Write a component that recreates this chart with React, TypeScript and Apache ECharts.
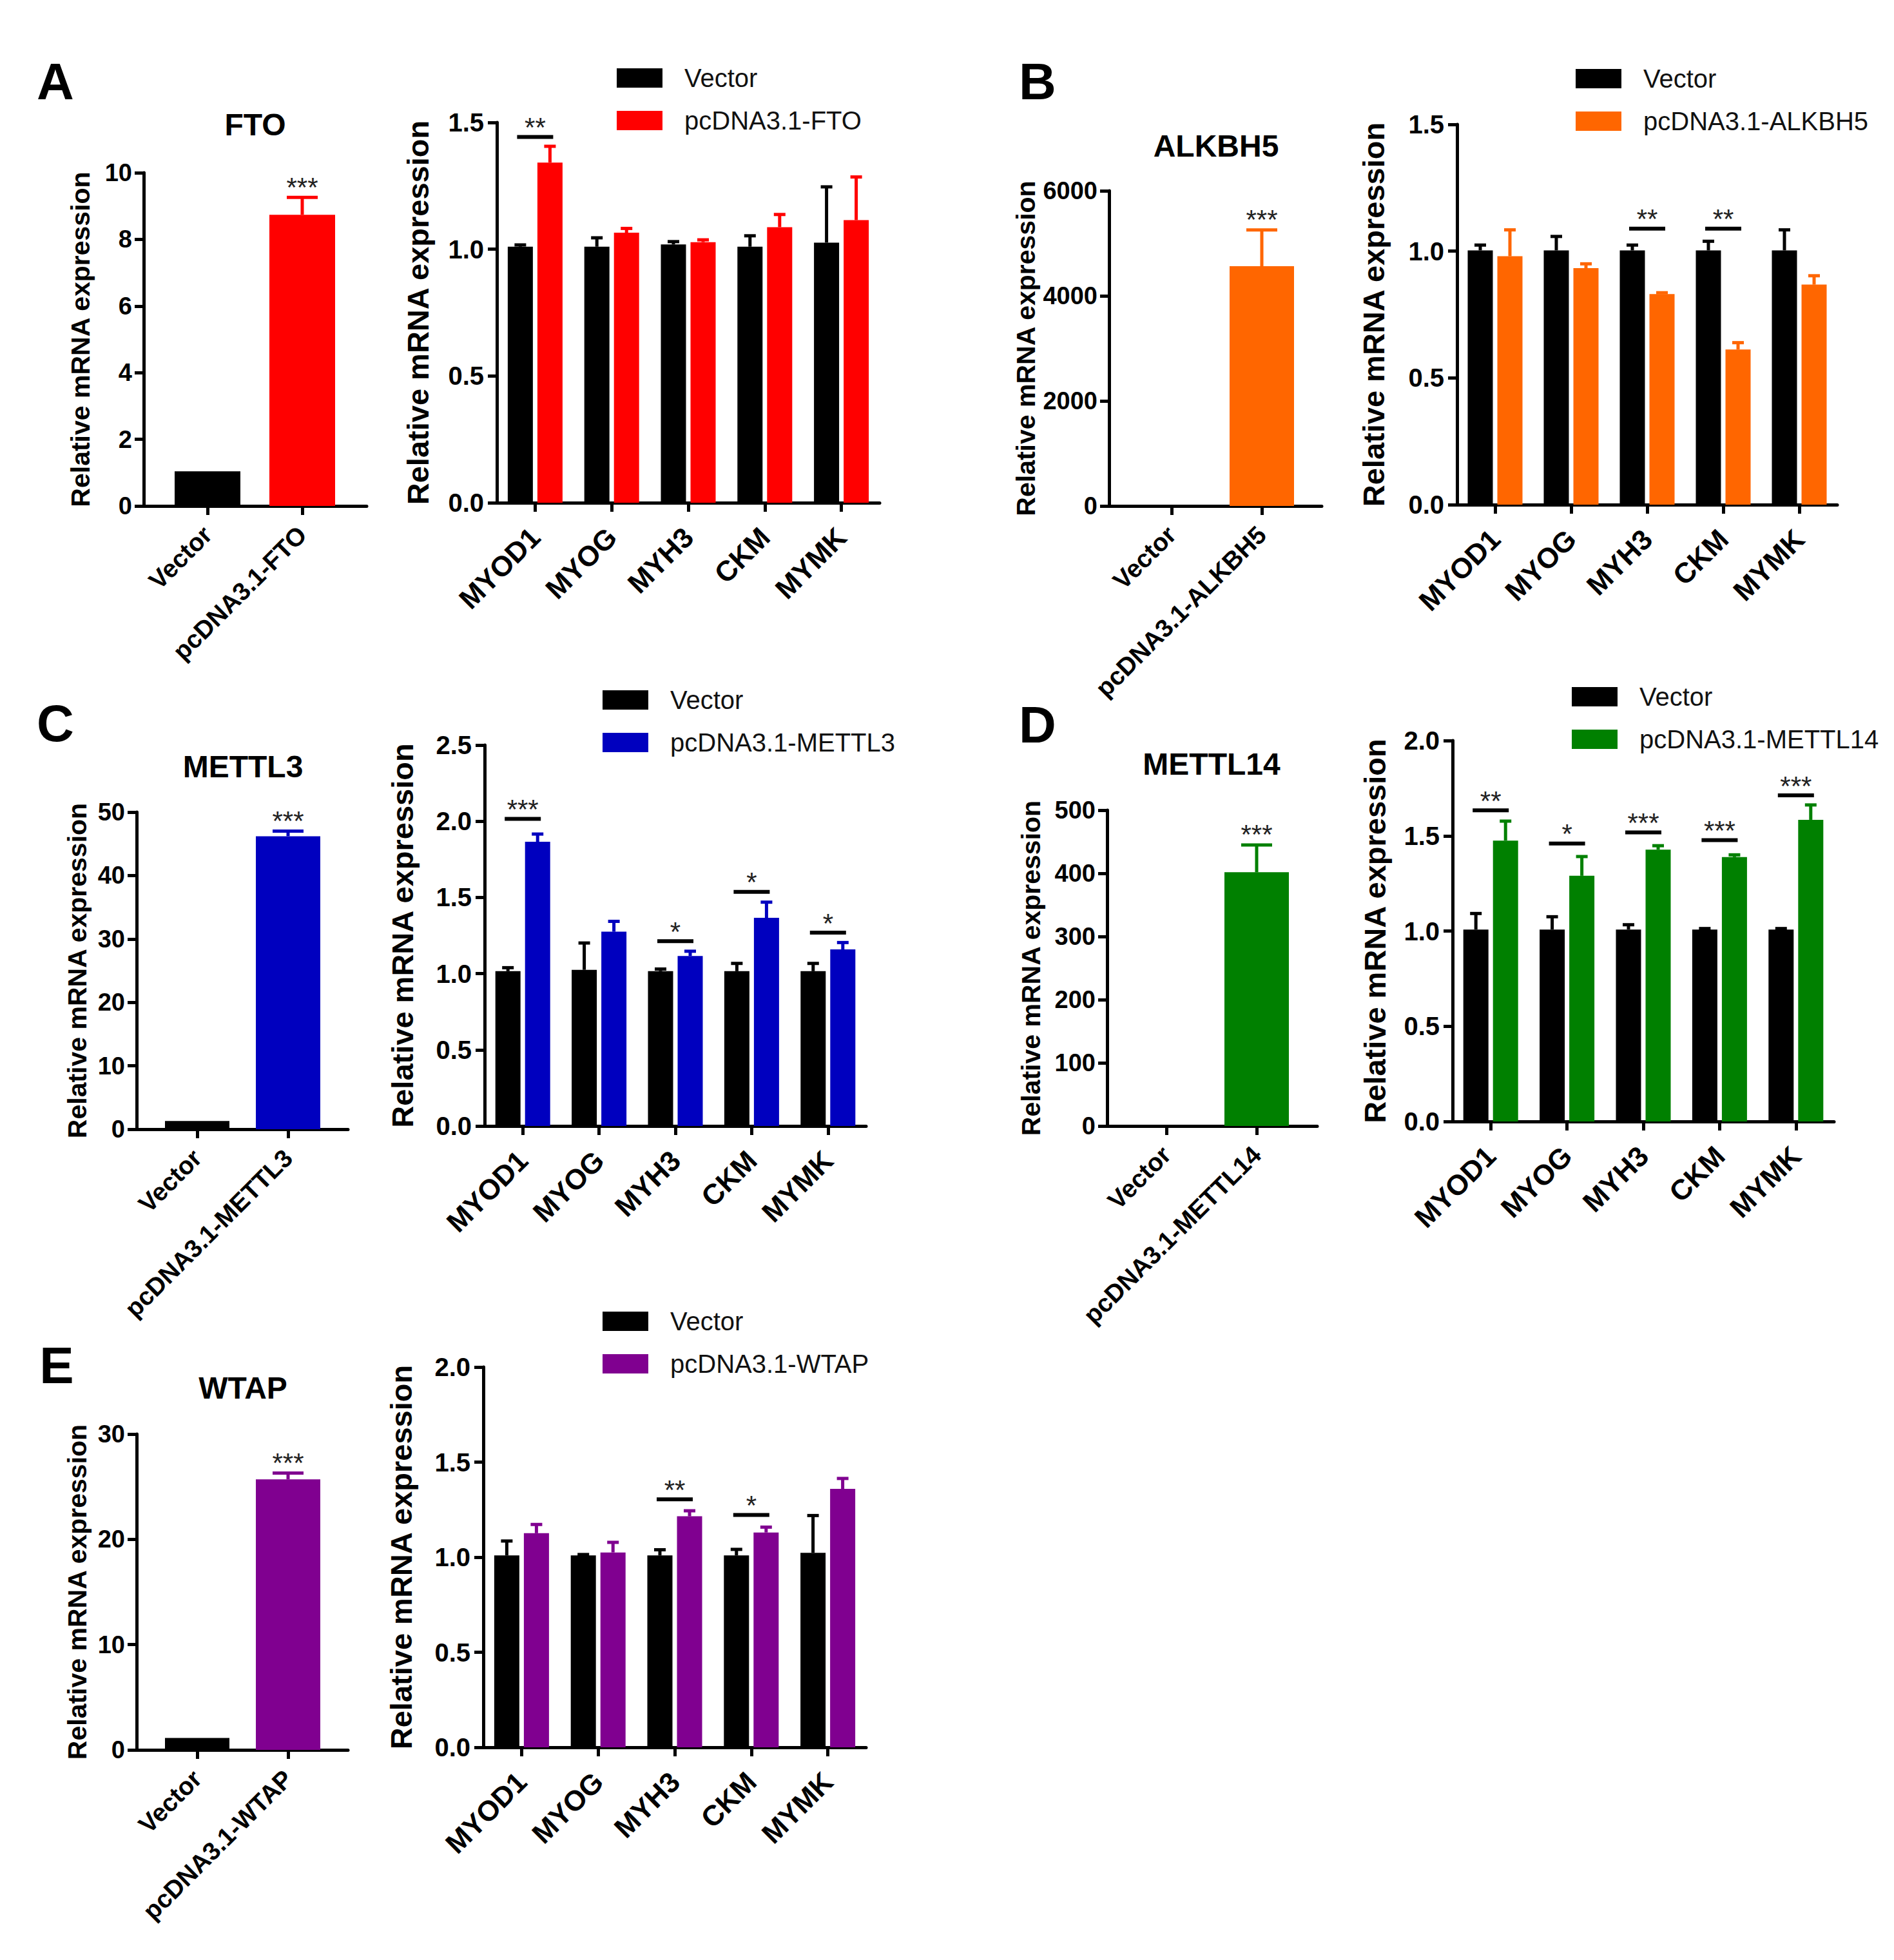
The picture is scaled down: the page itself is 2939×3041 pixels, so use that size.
import { useEffect, useRef } from 'react';
import * as echarts from 'echarts';

const FONT = '"Liberation Sans", Arial, Helvetica, sans-serif';

const GENES = ['MYOD1', 'MYOG', 'MYH3', 'CKM', 'MYMK'];
const Y_NAME = 'Relative mRNA expression';

// A – FTO
const FTO_GROUPS = ['Vector', 'pcDNA3.1-FTO'];
const FTO_SELF = [1.04, 8.74];
const FTO_SELF_ERR = [1.04, 9.26];
const FTO_SELF_SIG = ['', '***'];
const FTO_VEC = [1.01, 1.01, 1.019, 1.01, 1.026];
const FTO_VEC_ERR = [1.017, 1.045, 1.03, 1.053, 1.246];
const FTO_OVER = [1.342, 1.065, 1.028, 1.087, 1.115];
const FTO_OVER_ERR = [1.406, 1.082, 1.037, 1.137, 1.285];
const FTO_SIG = ['**', '', '', '', ''];
const FTO_SIG_Y = [1.443, 0, 0, 0, 0];

// B – ALKBH5
const ALKBH5_GROUPS = ['Vector', 'pcDNA3.1-ALKBH5'];
const ALKBH5_SELF = [1, 4564];
const ALKBH5_SELF_ERR = [1, 5255];
const ALKBH5_SELF_SIG = ['', '***'];
const ALKBH5_VEC = [1.003, 1.003, 1.003, 1.003, 1.003];
const ALKBH5_VEC_ERR = [1.024, 1.058, 1.024, 1.039, 1.084];
const ALKBH5_OVER = [0.98, 0.933, 0.831, 0.612, 0.868];
const ALKBH5_OVER_ERR = [1.084, 0.95, 0.836, 0.639, 0.903];
const ALKBH5_SIG = ['', '', '**', '**', ''];
const ALKBH5_SIG_Y = [0, 0, 1.089, 1.089, 0];

// C – METTL3
const METTL3_GROUPS = ['Vector', 'pcDNA3.1-METTL3'];
const METTL3_SELF = [1.3, 46.2];
const METTL3_SELF_ERR = [1.3, 47.0];
const METTL3_SELF_SIG = ['', '***'];
const METTL3_VEC = [1.016, 1.025, 1.016, 1.016, 1.016];
const METTL3_VEC_ERR = [1.039, 1.201, 1.03, 1.067, 1.067];
const METTL3_OVER = [1.865, 1.275, 1.116, 1.366, 1.159];
const METTL3_OVER_ERR = [1.916, 1.343, 1.147, 1.469, 1.204];
const METTL3_SIG = ['***', '', '*', '*', '*'];
const METTL3_SIG_Y = [2.016, 0, 1.213, 1.537, 1.269];

// D – METTL14
const METTL14_GROUPS = ['Vector', 'pcDNA3.1-METTL14'];
const METTL14_SELF = [2, 401.7];
const METTL14_SELF_ERR = [2, 445];
const METTL14_SELF_SIG = ['', '***'];
const METTL14_VEC = [1.008, 1.008, 1.008, 1.008, 1.008];
const METTL14_VEC_ERR = [1.092, 1.075, 1.033, 1.013, 1.013];
const METTL14_OVER = [1.475, 1.29, 1.427, 1.388, 1.584];
const METTL14_OVER_ERR = [1.577, 1.391, 1.448, 1.4, 1.662];
const METTL14_SIG = ['**', '*', '***', '***', '***'];
const METTL14_SIG_Y = [1.634, 1.459, 1.518, 1.477, 1.712];

// E – WTAP
const WTAP_GROUPS = ['Vector', 'pcDNA3.1-WTAP'];
const WTAP_SELF = [1.14, 25.7];
const WTAP_SELF_ERR = [1.14, 26.3];
const WTAP_SELF_SIG = ['', '***'];
const WTAP_VEC = [1.009, 1.009, 1.009, 1.009, 1.023];
const WTAP_VEC_ERR = [1.085, 1.014, 1.039, 1.041, 1.219];
const WTAP_OVER = [1.126, 1.025, 1.215, 1.13, 1.359];
const WTAP_OVER_ERR = [1.172, 1.078, 1.244, 1.158, 1.414];
const WTAP_SIG = ['', '', '**', '*', ''];
const WTAP_SIG_Y = [0, 0, 1.304, 1.222, 0];

const PANELS = [
  {
    letter: 'A', gene: 'FTO', color: '#FF0000',
    groups: FTO_GROUPS, self: FTO_SELF, selfErr: FTO_SELF_ERR, selfSig: FTO_SELF_SIG,
    vec: FTO_VEC, vecErr: FTO_VEC_ERR, over: FTO_OVER, overErr: FTO_OVER_ERR,
    sig: FTO_SIG, sigY: FTO_SIG_Y, leftMax: 10, leftStep: 2, rightMax: 1.5,
  },
  {
    letter: 'B', gene: 'ALKBH5', color: '#FF6600',
    groups: ALKBH5_GROUPS, self: ALKBH5_SELF, selfErr: ALKBH5_SELF_ERR, selfSig: ALKBH5_SELF_SIG,
    vec: ALKBH5_VEC, vecErr: ALKBH5_VEC_ERR, over: ALKBH5_OVER, overErr: ALKBH5_OVER_ERR,
    sig: ALKBH5_SIG, sigY: ALKBH5_SIG_Y, leftMax: 6000, leftStep: 2000, rightMax: 1.5,
  },
  {
    letter: 'C', gene: 'METTL3', color: '#0000BF',
    groups: METTL3_GROUPS, self: METTL3_SELF, selfErr: METTL3_SELF_ERR, selfSig: METTL3_SELF_SIG,
    vec: METTL3_VEC, vecErr: METTL3_VEC_ERR, over: METTL3_OVER, overErr: METTL3_OVER_ERR,
    sig: METTL3_SIG, sigY: METTL3_SIG_Y, leftMax: 50, leftStep: 10, rightMax: 2.5,
  },
  {
    letter: 'D', gene: 'METTL14', color: '#008000',
    groups: METTL14_GROUPS, self: METTL14_SELF, selfErr: METTL14_SELF_ERR, selfSig: METTL14_SELF_SIG,
    vec: METTL14_VEC, vecErr: METTL14_VEC_ERR, over: METTL14_OVER, overErr: METTL14_OVER_ERR,
    sig: METTL14_SIG, sigY: METTL14_SIG_Y, leftMax: 500, leftStep: 100, rightMax: 2.0,
  },
  {
    letter: 'E', gene: 'WTAP', color: '#800090',
    groups: WTAP_GROUPS, self: WTAP_SELF, selfErr: WTAP_SELF_ERR, selfSig: WTAP_SELF_SIG,
    vec: WTAP_VEC, vecErr: WTAP_VEC_ERR, over: WTAP_OVER, overErr: WTAP_OVER_ERR,
    sig: WTAP_SIG, sigY: WTAP_SIG_Y, leftMax: 30, leftStep: 10, rightMax: 2.0,
  },
];

// pixel layout of each panel.
// left: [axis x, top, axis length, height, name gap, first tick x, second tick x]
// right: [left, top, width, height, name gap]
const LAYOUT = [
  { letter: [86, 126], title: [396, 193], left: [223, 268, 346, 517, 78, 322, 469], right: [771, 190, 594, 590, 99], legend: [957, 101], selfBar: 102 },
  { letter: [1610, 126], title: [1887, 226], left: [1721, 296, 330, 489, 109, 1818, 1958], right: [2261, 193, 590, 590, 106], legend: [2445, 102], selfBar: 100 },
  { letter: [86, 1122], title: [377, 1189], left: [212, 1260, 328, 492, 72, 306, 447], right: [752, 1156, 592, 591, 104], legend: [935, 1066], selfBar: 100 },
  { letter: [1610, 1124], title: [1880, 1185], left: [1718, 1257, 326, 490, 98, 1810, 1950], right: [2254, 1149, 592, 591, 97], legend: [2439, 1061], selfBar: 100 },
  { letter: [88, 2118], title: [377, 2153], left: [212, 2225, 328, 490, 72, 306, 447], right: [750, 2121, 594, 590, 104], legend: [935, 2030], selfBar: 100 },
];

const BAR_W = 39;
const BAR_GAP = 0.18;
const PAIR_OFFSET = (BAR_W * (1 + BAR_GAP)) / 2;
const LINE_W = 5;

function errSeries(xi: number, mean: number[], up: number[], colors: string[], offset: number, cap: number) {
  return {
    type: 'custom',
    xAxisIndex: xi,
    yAxisIndex: xi,
    z: 3,
    silent: true,
    clip: false,
    data: mean.map((m, j) => [j, m, up[j]]),
    renderItem: (params: any, api: any) => {
      const m = api.value(1);
      const u = api.value(2);
      if (!(u > m)) return null;
      const base = api.coord([api.value(0), m]);
      const top = api.coord([api.value(0), u]);
      const x = base[0] + offset;
      const stroke = colors[params.dataIndex];
      return {
        type: 'group',
        children: [
          { type: 'line', shape: { x1: x, y1: base[1], x2: x, y2: top[1] }, style: { stroke, lineWidth: LINE_W } },
          { type: 'line', shape: { x1: x - cap / 2, y1: top[1], x2: x + cap / 2, y2: top[1] }, style: { stroke, lineWidth: LINE_W } },
        ],
      };
    },
  };
}

function sigSeries(xi: number, labels: string[], levels: number[], withLine: boolean) {
  const idx = labels.map((s, j) => (s ? j : -1)).filter((j) => j >= 0);
  return {
    type: 'custom',
    xAxisIndex: xi,
    yAxisIndex: xi,
    z: 4,
    silent: true,
    clip: false,
    data: idx.map((j) => [j, levels[j]]),
    renderItem: (params: any, api: any) => {
      const j = idx[params.dataIndex];
      const p = api.coord([api.value(0), api.value(1)]);
      const children: any[] = [];
      if (withLine) {
        children.push({
          type: 'line',
          shape: { x1: p[0] - 28, y1: p[1], x2: p[0] + 28, y2: p[1] },
          style: { stroke: '#000', lineWidth: 6 },
        });
      }
      children.push({
        type: 'text',
        x: p[0],
        y: p[1] - (withLine ? 15 : 16),
        style: {
          text: labels[j],
          fill: '#222',
          font: `normal 42px ${FONT}`,
          align: 'center',
          verticalAlign: 'middle',
        },
      });
      return { type: 'group', children };
    },
  };
}

function buildOption() {
  const grid: any[] = [];
  const xAxis: any[] = [];
  const yAxis: any[] = [];
  const series: any[] = [];
  const legend: any[] = [];
  const graphic: any[] = [];

  const axisLine = { show: true, lineStyle: { color: '#000', width: LINE_W } };
  const axisTick = { show: true, length: 14, inside: false, lineStyle: { color: '#000', width: LINE_W } };

  PANELS.forEach((p, i) => {
    const L = LAYOUT[i];
    const li = 2 * i;
    const ri = 2 * i + 1;
    const overName = p.groups[1];
    const step = L.left[6] - L.left[5];
    const barLeft = L.left[5] - step / 2;

    grid.push({ left: barLeft, top: L.left[1], width: 2 * step, height: L.left[3] });
    grid.push({ left: L.right[0], top: L.right[1], width: L.right[2], height: L.right[3] });

    xAxis.push({
      type: 'category', gridIndex: li, data: p.groups,
      axisLine, axisTick: { ...axisTick, alignWithLabel: true },
      axisLabel: { interval: 0, rotate: 45, margin: 38, color: '#000', fontSize: 39, fontWeight: 'bold', fontFamily: FONT },
    });
    xAxis.push({
      type: 'category', gridIndex: ri, data: GENES,
      axisLine, axisTick: { ...axisTick, alignWithLabel: true },
      axisLabel: { interval: 0, rotate: 45, margin: 46, color: '#000', fontSize: 44, fontWeight: 'bold', fontFamily: FONT },
    });
    yAxis.push({
      type: 'value', gridIndex: li, min: 0, max: p.leftMax, interval: p.leftStep,
      offset: barLeft - L.left[0],
      axisLine, axisTick, splitLine: { show: false },
      axisLabel: { margin: 18, color: '#000', fontSize: 38, fontWeight: 'bold', fontFamily: FONT, formatter: (v: number) => String(v) },
      name: Y_NAME, nameLocation: 'middle', nameGap: L.left[4],
      nameTextStyle: { color: '#000', fontSize: 41, fontWeight: 'bold', fontFamily: FONT },
    });
    yAxis.push({
      type: 'value', gridIndex: ri, min: 0, max: p.rightMax, interval: 0.5,
      axisLine, axisTick, splitLine: { show: false },
      axisLabel: { margin: 20, color: '#000', fontSize: 40, fontWeight: 'bold', fontFamily: FONT, formatter: (v: number) => v.toFixed(1) },
      name: Y_NAME, nameLocation: 'middle', nameGap: L.right[4],
      nameTextStyle: { color: '#000', fontSize: 47, fontWeight: 'bold', fontFamily: FONT },
    });

    const selfColors = ['#000000', p.color];
    series.push({
      type: 'bar', xAxisIndex: li, yAxisIndex: li, barWidth: L.selfBar,
      data: p.self.map((v, j) => ({ value: v, itemStyle: { color: selfColors[j] } })),
    });
    series.push(errSeries(li, p.self, p.selfErr, selfColors, 0, 48));
    series.push(sigSeries(li, p.selfSig, p.selfErr, false));

    series.push({
      name: 'Vector', type: 'bar', xAxisIndex: ri, yAxisIndex: ri,
      barWidth: BAR_W, barGap: `${BAR_GAP * 100}%`, itemStyle: { color: '#000000' }, data: p.vec,
    });
    series.push({
      name: overName, type: 'bar', xAxisIndex: ri, yAxisIndex: ri,
      barWidth: BAR_W, barGap: `${BAR_GAP * 100}%`, itemStyle: { color: p.color }, data: p.over,
    });
    series.push(errSeries(ri, p.vec, p.vecErr, p.vec.map(() => '#000000'), -PAIR_OFFSET, 18));
    series.push(errSeries(ri, p.over, p.overErr, p.over.map(() => p.color), PAIR_OFFSET, 18));
    series.push(sigSeries(ri, p.sig, p.sigY, true));

    legend.push({
      left: L.legend[0], top: L.legend[1], orient: 'vertical', padding: 0,
      itemWidth: 71, itemHeight: 30, itemGap: 26, icon: 'rect', selectedMode: false,
      data: ['Vector', overName],
      textStyle: { color: '#111', fontSize: 40, fontFamily: FONT, lineHeight: 30, padding: [0, 0, 0, 29] },
    });

    graphic.push({
      type: 'text', x: L.letter[0], y: L.letter[1],
      style: { text: p.letter, font: `bold 80px ${FONT}`, fill: '#000', align: 'center', verticalAlign: 'middle' },
    });
    graphic.push({
      type: 'text', x: L.title[0], y: L.title[1],
      style: { text: p.gene, font: `bold 48px ${FONT}`, fill: '#000', align: 'center', verticalAlign: 'middle' },
    });
  });

  // full-length baseline of each single-gene plot (runs from the y axis to the end)
  PANELS.forEach((_p, i) => {
    const L = LAYOUT[i];
    const gi = grid.length;
    grid.push({ left: L.left[0], top: L.left[1], width: L.left[2], height: L.left[3] });
    xAxis.push({
      type: 'value', gridIndex: gi, min: 0, max: 1,
      axisLine, axisTick: { show: false }, axisLabel: { show: false }, splitLine: { show: false },
    });
    yAxis.push({ type: 'value', gridIndex: gi, min: 0, max: 1, show: false });
  });

  return {
    animation: false,
    backgroundColor: '#ffffff',
    textStyle: { fontFamily: FONT },
    grid, xAxis, yAxis, series, legend, graphic,
  };
}

export default function App() {
  const ref = useRef<HTMLDivElement>(null);

  useEffect(() => {
    if (!ref.current) return;
    const chart = echarts.init(ref.current, undefined, { renderer: 'svg' });
    chart.setOption(buildOption());
    return () => chart.dispose();
  }, []);

  return (
    <div
      ref={ref}
      style={{ position: 'absolute', left: 0, top: 0, width: 2939, height: 3041, background: '#fff' }}
    />
  );
}
